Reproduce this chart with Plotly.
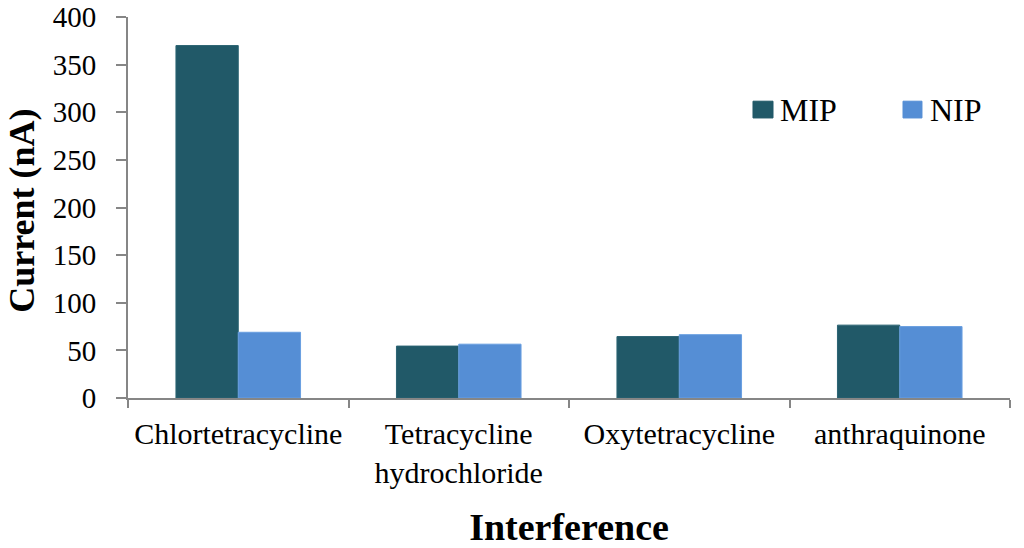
import plotly.graph_objects as go

categories = ["Chlortetracycline", "Tetracycline<br>hydrochloride", "Oxytetracycline", "anthraquinone"]
mip_values = [370, 54.5, 64.5, 76.5]
nip_values = [69, 56.5, 66.5, 75]
series_names = ["MIP", "NIP"]
series_colors = ["#215968", "#558ED5"]
y_ticks = [0, 50, 100, 150, 200, 250, 300, 350, 400]

FONT = "Liberation Serif, Times New Roman, serif"
AXIS_COLOR = "#868686"

fig = go.Figure()
fig.add_trace(go.Bar(x=categories, y=mip_values, name=series_names[0],
                     marker=dict(color=series_colors[0], line=dict(color="#2a6372", width=1))))
fig.add_trace(go.Bar(x=categories, y=nip_values, name=series_names[1],
                     marker=dict(color=series_colors[1], line=dict(color="#6a9fe0", width=1))))

# legend drawn as swatches + labels inside plot area (paper coordinates)
legend_pos = [(0.7086, 0.7313, 0.737), (0.8787, 0.9002, 0.907)]
for (x0, x1, xt), name, col in zip(legend_pos, series_names, series_colors):
    fig.add_shape(type="rect", xref="paper", yref="paper", x0=x0, x1=x1, y0=0.735, y1=0.779,
                  fillcolor=col, line=dict(color=col, width=1))
    fig.add_annotation(xref="paper", yref="paper", x=xt, y=0.757, text=name, showarrow=False,
                       xanchor="left", yanchor="middle", font=dict(family=FONT, size=32, color="black"))

# y-axis title
fig.add_annotation(xref="paper", yref="paper", x=-0.1445, y=0.49, text="<b>Current (nA)</b>",
                   textangle=-90, showarrow=False, xanchor="left", yanchor="middle",
                   font=dict(family=FONT, size=36, color="black"))

fig.update_layout(
    width=1024, height=548,
    margin=dict(l=128, r=14, t=17, b=150, autoexpand=False),
    paper_bgcolor="white", plot_bgcolor="white",
    barmode="group", bargap=0.435, bargroupgap=0,
    font=dict(family=FONT, color="black"),
    showlegend=False,
    xaxis=dict(
        automargin=False,
        showline=True, linecolor=AXIS_COLOR, linewidth=2,
        ticks="outside", tickson="boundaries", ticklen=8, tickcolor=AXIS_COLOR, tickwidth=2,
        tickfont=dict(family=FONT, size=30), ticklabelstandoff=8,
        title=dict(text="<b>Interference</b>", font=dict(family=FONT, size=38), standoff=34),
        showgrid=False, zeroline=False,
    ),
    yaxis=dict(
        automargin=False,
        range=[0, 400], tickvals=y_ticks, ticklabeloverflow="allow",
        showline=True, linecolor=AXIS_COLOR, linewidth=2,
        ticks="outside", ticklen=10, tickcolor=AXIS_COLOR, tickwidth=2,
        tickfont=dict(family=FONT, size=29), ticklabelstandoff=14,
        showgrid=False, zeroline=False,
    ),
)

fig.write_html("out.html", config={"displayModeBar": False},
               post_script="document.body.style.margin='0px';")
